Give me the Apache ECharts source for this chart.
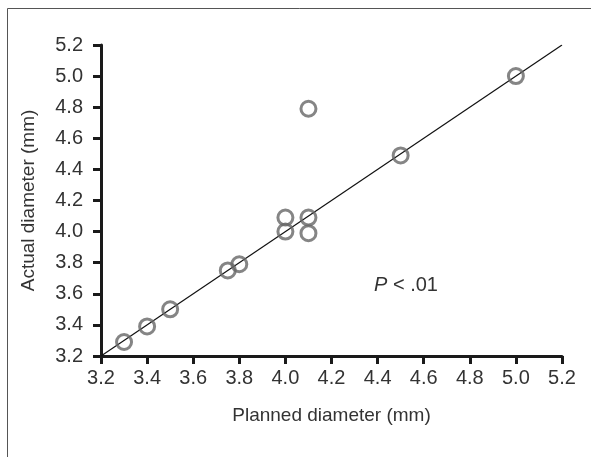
<!DOCTYPE html>
<html>
<head>
<meta charset="utf-8">
<script src="https://cdn.jsdelivr.net/npm/echarts@6/dist/echarts.min.js"></script>
<style>
html,body{margin:0;padding:0;background:#fff;}
#c{width:591px;height:457px;}
</style>
</head>
<body>
<div id="c"></div>
<script>
const xTicks = [3.2, 3.4, 3.6, 3.8, 4.0, 4.2, 4.4, 4.6, 4.8, 5.0, 5.2];
const yTicks = [3.2, 3.4, 3.6, 3.8, 4.0, 4.2, 4.4, 4.6, 4.8, 5.0, 5.2];
const planned = [3.3, 3.4, 3.5, 3.75, 3.8, 4.0, 4.0, 4.1, 4.1, 4.1, 4.5, 5.0];
const actual  = [3.29, 3.39, 3.5, 3.75, 3.79, 4.0, 4.09, 4.09, 3.99, 4.79, 4.49, 5.0];
const fitLine = [[3.2, 3.2], [5.2, 5.2]];
const xName = 'Planned diameter (mm)';
const yName = 'Actual diameter (mm)';
const annotation = 'P < .01';

const points = planned.map((p, i) => [p, actual[i]]);
const font = 'Liberation Sans, Arial, sans-serif';

const chart = echarts.init(document.getElementById('c'), null, {renderer: 'canvas'});
const axisCommon = {
  type: 'value', min: 3.2, max: 5.2, interval: 0.2,
  splitLine: {show: false},
  axisLine: {show: true, lineStyle: {color: '#1a1a1a', width: 3}},
  axisTick: {show: true, length: 8, lineStyle: {color: '#1a1a1a', width: 3}},
  nameLocation: 'middle',
  nameTextStyle: {fontFamily: font, fontSize: 19, color: '#333'}
};
chart.setOption({
  animation: false,
  backgroundColor: '#fff',
  grid: {left: 101, right: 29, top: 45, bottom: 101, containLabel: false},
  xAxis: Object.assign({}, axisCommon, {
    name: xName, nameGap: 50,
    axisLabel: {fontFamily: font, fontSize: 20, color: '#333', margin: 12,
      formatter: v => v.toFixed(1)}
  }),
  yAxis: Object.assign({}, axisCommon, {
    name: yName, nameGap: 63,
    axisLabel: {fontFamily: font, fontSize: 20, color: '#333', margin: 18,
      formatter: v => v.toFixed(1)}
  }),
  series: [
    {
      type: 'line', data: fitLine, symbol: 'none', silent: true,
      lineStyle: {color: '#111', width: 1.2}, z: 1
    },
    {
      type: 'scatter', data: points, symbol: 'circle', symbolSize: 15,
      itemStyle: {color: 'rgba(0,0,0,0)', borderColor: '#666', borderWidth: 3}, z: 2
    }
  ],
  graphic: [
    {type: 'rect', shape: {x: 7.5, y: 8.5, width: 700, height: 600},
     style: {fill: 'none', stroke: '#555', lineWidth: 1}, silent: true},
    {type: 'text', left: 374, top: 275,
     style: {text: '{i|P} < .01', fontFamily: font, fontSize: 20, fill: '#333',
       rich: {i: {fontStyle: 'italic', fontFamily: font, fontSize: 20, fill: '#333'}}}}
  ]
});
</script>
</body>
</html>
